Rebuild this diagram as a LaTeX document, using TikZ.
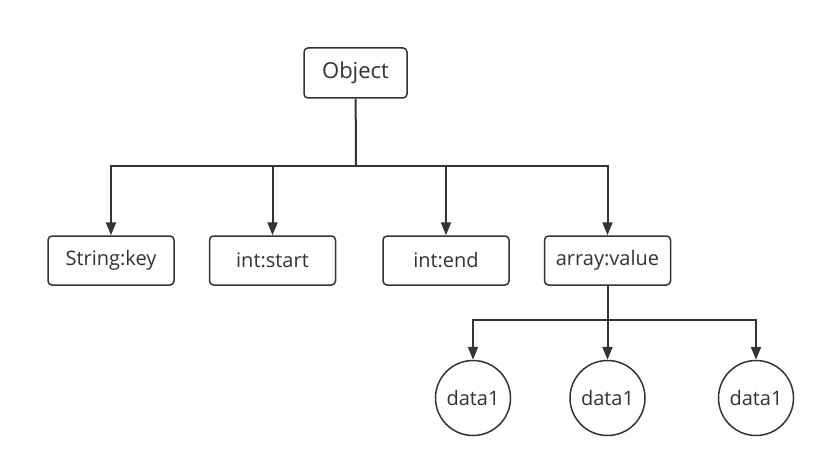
\documentclass[tikz,border=0pt]{standalone}
\usepackage{fontspec}
\setmainfont{Open Sans}
\usetikzlibrary{arrows.meta}
\definecolor{ink}{HTML}{333333}
\tikzset{
	box/.style={draw=ink,line width=1.5pt,rounded corners=4pt,minimum width=126pt,minimum height=49pt,text=ink,font=\fontsize{20}{24}\selectfont},
	circ/.style={draw=ink,line width=1.5pt,circle,minimum size=75pt,inner sep=0pt,text=ink,font=\fontsize{20}{24}\selectfont},
	link/.style={draw=ink,line width=2pt},
	arr/.style={link,-{Triangle[length=13pt,width=10pt]}}
}
\begin{document}
\begin{tikzpicture}[x=1pt,y=-1pt]
	\useasboundingbox[fill=white] (0,0) rectangle (826,468);
	\node[box,minimum width=103pt,minimum height=50pt,font=\fontsize{22}{26}\selectfont] (obj) at (355.5,73) {Object};
	\node[box] (key) at (111,260.5) {String:key};
	\node[box] (start) at (272.5,260.5) {int:start};
	\node[box] (end) at (446,260.5) {int:end};
	\node[box] (value) at (607.5,260.5) {array:value};
	\node[circ] (d1) at (473,398) {data1};
	\node[circ] (d2) at (607.5,398) {data1};
	\node[circ] (d3) at (756,398) {data1};
	\coordinate (j1) at (356,166);
	\coordinate (j2) at (607.5,320);
	\draw[link] (obj) -- (j1);
	\draw[arr] (j1) -| (key);
	\draw[arr] (j1) -| (start);
	\draw[arr] (j1) -| (end);
	\draw[arr] (j1) -| (value);
	\draw[link] (value) -- (j2);
	\draw[arr] (j2) -| (d1);
	\draw[arr] (j2) -- (d2);
	\draw[arr] (j2) -| (d3);
\end{tikzpicture}
\end{document}
